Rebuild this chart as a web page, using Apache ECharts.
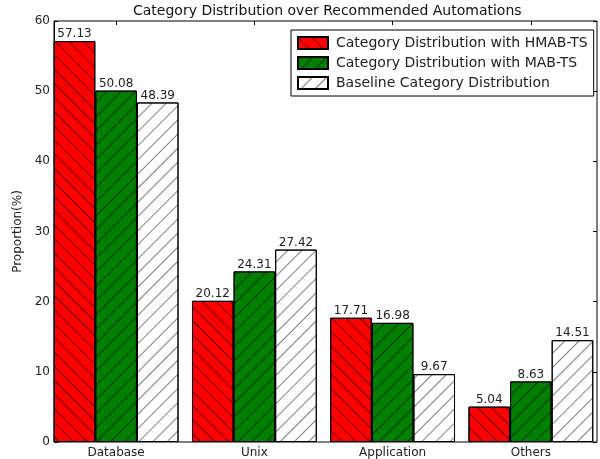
<!DOCTYPE html>
<html>
<head>
<meta charset="utf-8">
<script src="https://cdn.jsdelivr.net/npm/echarts@6/dist/echarts.min.js"></script>
<style>
  html, body { margin: 0; padding: 0; background: #fff; }
  #chart { width: 600px; height: 459px; }
</style>
</head>
<body>
<div id="chart"></div>
<script>
const categories = ['Database', 'Unix', 'Application', 'Others']
const hmabValues = [57.13, 20.12, 17.71, 5.04]
const mabValues = [50.08, 24.31, 16.98, 8.63]
const baselineValues = [48.39, 27.42, 9.67, 14.51]
const seriesNames = [
  'Category Distribution with HMAB-TS',
  'Category Distribution with MAB-TS',
  'Baseline Category Distribution'
]
const yMin = 0
const yMax = 60
const yStep = 10

const font = 'DejaVu Sans'

// hatch pattern like matplotlib's '\\' and '/'
const hatch = (rot, color) => ({
  symbol: 'rect',
  symbolSize: 1,
  dashArrayX: [1, 0],
  dashArrayY: [1, 8.5],
  rotation: rot,
  color: color
})

const barSeries = (name, data, fill, rot, hatchColor) => ({
  name: name,
  type: 'bar',
  xAxisIndex: 1,
  yAxisIndex: 2,
  data: data,
  barWidth: 41.6,
  barGap: '0%',
  itemStyle: {
    color: fill,
    borderColor: '#000',
    borderWidth: 1,
    decal: hatch(rot, hatchColor)
  },
  label: {
    show: true,
    position: 'top',
    distance: 1,
    fontFamily: font,
    fontSize: 12,
    color: '#222',
    formatter: p => p.value.toFixed(2)
  }
})

const chart = echarts.init(document.getElementById('chart'))

const option = {
  animation: false,
  backgroundColor: '#fff',
  title: {
    text: 'Category Distribution over Recommended Automations',
    left: 133,
    top: 4,
    padding: 0,
    textStyle: { fontFamily: font, fontSize: 14, fontWeight: 'normal', color: '#111' }
  },
  legend: {
    orient: 'vertical',
    left: 291,
    top: 30,
    icon: 'rect',
    itemWidth: 30,
    itemHeight: 12,
    itemGap: 6,
    padding: [6, 6, 6, 6],
    borderColor: '#000',
    borderWidth: 1,
    borderRadius: 0,
    backgroundColor: '#fff',
    textStyle: { fontFamily: font, fontSize: 14, color: '#222', padding: [0, 0, 0, 3] },
    data: seriesNames
  },
  grid: [
    // frame
    { left: 54, top: 21, width: 543, height: 421, show: true, borderColor: '#000', borderWidth: 1, backgroundColor: 'transparent' },
    // bars
    { left: 47, top: 21, width: 555, height: 421 }
  ],
  xAxis: [
    { gridIndex: 0, type: 'value', min: 0, max: 1, show: false },
    {
      gridIndex: 1,
      type: 'category',
      data: categories,
      axisLine: { show: false },
      axisTick: { show: false },
      axisLabel: { fontFamily: font, fontSize: 12, color: '#222', margin: 5 }
    },
    {
      gridIndex: 1,
      type: 'category',
      position: 'top',
      data: categories,
      axisLine: { show: false },
      axisTick: { show: true, inside: true, alignWithLabel: true, length: 4, lineStyle: { color: '#000' } },
      axisLabel: { show: false }
    }
  ],
  yAxis: [
    {
      gridIndex: 0,
      type: 'value',
      min: yMin,
      max: yMax,
      interval: yStep,
      name: 'Proportion(%)',
      nameLocation: 'middle',
      nameGap: 16,
      nameTextStyle: { fontFamily: font, fontSize: 12, color: '#222' },
      axisLine: { show: true, lineStyle: { color: '#000' } },
      axisTick: { show: true, inside: true, length: 4, lineStyle: { color: '#000' } },
      axisLabel: { fontFamily: font, fontSize: 12, color: '#222', margin: 4 },
      splitLine: { show: false }
    },
    {
      gridIndex: 0,
      type: 'value',
      position: 'right',
      min: yMin,
      max: yMax,
      interval: yStep,
      axisLine: { show: false },
      axisTick: { show: true, inside: true, length: 4, lineStyle: { color: '#000' } },
      axisLabel: { show: false },
      splitLine: { show: false }
    },
    { gridIndex: 1, type: 'value', min: yMin, max: yMax, show: false }
  ],
  series: [
    barSeries(seriesNames[0], hmabValues, '#ff0000', Math.PI / 4, 'rgba(0,0,0,0.55)'),
    barSeries(seriesNames[1], mabValues, '#007f00', -Math.PI / 4, 'rgba(0,0,0,0.55)'),
    barSeries(seriesNames[2], baselineValues, '#ffffff', -Math.PI / 4, 'rgba(0,0,0,0.5)')
  ]
}

chart.setOption(option)
</script>
</body>
</html>
